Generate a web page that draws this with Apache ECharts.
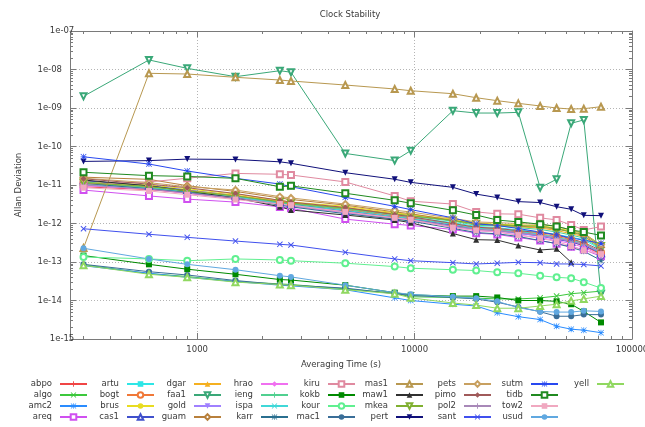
<!DOCTYPE html>
<html>
<head>
<meta charset="utf-8">
<title>Clock Stability</title>
<script src="https://cdn.jsdelivr.net/npm/echarts@6/dist/echarts.min.js"></script>
<style>
  html, body { margin: 0; padding: 0; background: #ffffff; }
  #chart { width: 645px; height: 427px; }
</style>
</head>
<body>
<div id="chart"></div>
<script>
// Averaging times (s) shared by all stations
const taus = [300, 600, 900, 1500, 2400, 2700, 4800, 8100, 9600, 15000, 19200, 24000, 30000, 37800, 45000, 52500, 60000, 72000];

// Allan deviation per station, one value per averaging time (null = no estimate)
const abpo = [9.0e-12, 7.6e-12, 6.2e-12, 4.4e-12, 3.2e-12, 3.0e-12, 2.2e-12, 1.5e-12, 1.35e-12, 9.0e-13, 7.6e-13, 7.0e-13, 6.0e-13, 5.0e-13, 4.0e-13, 3.4e-13, 2.6e-13, 1.6e-13];
const algo = [8.5e-14, 5.0e-14, 4.2e-14, 3.1e-14, 2.7e-14, 2.6e-14, 2.0e-14, 1.55e-14, 1.25e-14, 1.2e-14, 1.15e-14, 1.1e-14, 1.1e-14, 1.17e-14, 1.3e-14, 1.5e-14, 1.6e-14, 1.75e-14];
const amc2 = [8.0e-14, 5.1e-14, 4.0e-14, 3.1e-14, 2.5e-14, 2.4e-14, 1.9e-14, 1.17e-14, 1.0e-14, 8.0e-15, 7.2e-15, 4.8e-15, 3.8e-15, 3.2e-15, 2.15e-15, 1.8e-15, 1.7e-15, 1.46e-15];
const areq = [7.4e-12, 5.2e-12, 4.3e-12, 3.6e-12, 2.7e-12, 2.5e-12, 1.3e-12, 9.6e-13, 8.9e-13, 7.0e-13, 5.6e-13, 5.2e-13, 4.3e-13, 3.6e-13, 3.0e-13, 2.5e-13, 2.1e-13, 1.4e-13];
const artu = [1.1e-11, 8.8e-12, 7.0e-12, 5.2e-12, 3.6e-12, 3.3e-12, 2.4e-12, 1.6e-12, 1.45e-12, 1.05e-12, 8.4e-13, 7.8e-13, 6.8e-13, 6.0e-13, 5.2e-13, 4.4e-13, 3.8e-13, 2.1e-13];
const bogt = [1.15e-11, 8.5e-12, 6.8e-12, 5.0e-12, 3.4e-12, 3.1e-12, 2.3e-12, 1.55e-12, 1.4e-12, 9.5e-13, 7.8e-13, 7.2e-13, 6.2e-13, 5.4e-13, 4.6e-13, 3.8e-13, 3.0e-13, 1.8e-13];
const brus = [1.25e-11, 1.0e-11, 8.0e-12, 5.8e-12, 4.0e-12, 3.6e-12, 2.8e-12, 1.9e-12, 1.7e-12, 1.3e-12, 1.05e-12, 9.5e-13, 9.2e-13, 8.8e-13, 7.6e-13, 6.4e-13, 5.6e-13, 2.7e-13];
const cas1 = [1.3e-11, 9.5e-12, 7.4e-12, 5.3e-12, 3.5e-12, 3.2e-12, 2.1e-12, 1.45e-12, 1.3e-12, 8.8e-13, 7.0e-13, 6.5e-13, 5.6e-13, 4.7e-13, 3.9e-13, 3.3e-13, 2.7e-13, 1.7e-13];
const dgar = [1.2e-11, 9.0e-12, 7.2e-12, 5.4e-12, 3.8e-12, 3.4e-12, 2.6e-12, 1.8e-12, 1.6e-12, 1.2e-12, 9.5e-13, 8.8e-13, 8.2e-13, 7.6e-13, 6.6e-13, 5.4e-13, 4.6e-13, 2.3e-13];
const faa1 = [2.01e-9, 1.77e-8, 1.07e-8, 6.5e-9, 9.3e-9, 8.5e-9, 6.6e-11, 4.3e-11, 7.8e-11, 8.5e-10, 7.4e-10, 7.4e-10, 7.7e-10, 8.5e-12, 1.41e-11, 4.0e-10, 4.9e-10, 1.5e-14];
const gold = [1.0e-11, 8.0e-12, 6.5e-12, 4.8e-12, 3.3e-12, 3.0e-12, 2.0e-12, 1.4e-12, 1.25e-12, 8.5e-13, 6.8e-13, 6.3e-13, 5.5e-13, 4.8e-13, 4.0e-13, 3.5e-13, 2.8e-13, 1.9e-13];
const guam = [1.6e-11, 1.4e-11, 9.6e-12, 6.8e-12, 4.6e-12, 4.2e-12, 3.0e-12, 2.0e-12, 1.8e-12, 1.2e-12, 1.0e-12, 9.2e-13, 8.5e-13, 8.0e-13, 7.2e-13, 6.0e-13, 4.8e-13, 2.4e-13];
const hrao = [9.5e-12, 7.8e-12, 6.0e-12, 4.5e-12, 3.1e-12, 2.8e-12, 1.9e-12, 1.35e-12, 1.2e-12, 8.0e-13, 6.5e-13, 6.0e-13, 5.0e-13, 4.3e-13, 3.6e-13, 3.0e-13, 2.4e-13, 1.5e-13];
const ieng = [1.2e-11, 8.6e-12, 6.9e-12, 5.1e-12, 3.5e-12, 3.2e-12, 2.4e-12, 1.7e-12, 1.55e-12, 1.15e-12, 9.0e-13, 8.6e-13, 7.8e-13, 7.0e-13, 6.0e-13, 5.0e-13, 4.2e-13, 2.2e-13];
const ispa = [1.05e-11, 8.2e-12, 6.6e-12, 4.9e-12, 3.3e-12, 3.0e-12, 2.2e-12, 1.5e-12, 1.35e-12, 9.5e-13, 7.5e-13, 7.0e-13, 6.3e-13, 5.2e-13, 4.4e-13, 3.6e-13, 3.1e-13, 1.7e-13];
const karr = [1.1e-11, 8.0e-12, 6.4e-12, 4.6e-12, 3.0e-12, 2.7e-12, 1.8e-12, 1.3e-12, 1.15e-12, 7.5e-13, 5.8e-13, 5.4e-13, 4.6e-13, 3.6e-13, 3.0e-13, 2.4e-13, 1.9e-13, 1.1e-13];
const kiru = [1.05e-11, 1.2e-11, 1.5e-11, 2.0e-11, 1.9e-11, 1.82e-11, 1.2e-11, 5.2e-12, 3.8e-12, 3.2e-12, 2.0e-12, 1.78e-12, 1.75e-12, 1.4e-12, 1.24e-12, 9.2e-13, 6.8e-13, 8.3e-13];
const kokb = [1.47e-13, 8.7e-14, 6.5e-14, 4.8e-14, 3.5e-14, 3.4e-14, 2.5e-14, 1.6e-14, 1.4e-14, 1.3e-14, 1.3e-14, 1.2e-14, 1.0e-14, 1.0e-14, 9.5e-15, 8.0e-15, 5.2e-15, 2.7e-15];
const kour = [1.35e-13, 1.2e-13, 1.08e-13, 1.2e-13, 1.13e-13, 1.08e-13, 9.3e-14, 7.6e-14, 6.9e-14, 6.3e-14, 6.0e-14, 5.4e-14, 5.1e-14, 4.4e-14, 4.0e-14, 3.8e-14, 3.0e-14, 2.1e-14];
const mac1 = [8.7e-14, 5.6e-14, 4.6e-14, 3.3e-14, 2.6e-14, 2.5e-14, 2.1e-14, 1.5e-14, 1.35e-14, 1.2e-14, 1.1e-14, 9.0e-15, 6.8e-15, 5.1e-15, 3.9e-15, 3.9e-15, 4.3e-15, 4.3e-15];
const mas1 = [2.31e-13, 7.96e-9, 7.64e-9, 6.27e-9, 5.33e-9, 5.03e-9, 3.95e-9, 3.12e-9, 2.81e-9, 2.35e-9, 1.85e-9, 1.55e-9, 1.32e-9, 1.13e-9, 1.0e-9, 9.4e-10, 9.6e-10, 1.08e-9];
const maw1 = [1.35e-11, 9.5e-12, 7.0e-12, 4.6e-12, 2.73e-12, 2.24e-12, 1.66e-12, 1.23e-12, 1.05e-12, 5.5e-13, 3.8e-13, 3.7e-13, 2.7e-13, 2.05e-13, 2.2e-13, 9.8e-14, null, null];
const mkea = [1.15e-11, 9.2e-12, 7.0e-12, 5.2e-12, 3.7e-12, 3.4e-12, 2.5e-12, 1.75e-12, 1.6e-12, 1.2e-12, 9.8e-13, 9.3e-13, 8.8e-13, 8.5e-13, 7.4e-13, 6.0e-13, 5.2e-13, 2.6e-13];
const pert = [4.1e-11, 4.3e-11, 4.7e-11, 4.6e-11, 4.0e-11, 3.66e-11, 2.09e-11, 1.41e-11, 1.17e-11, 8.7e-12, 5.8e-12, 4.7e-12, 3.7e-12, 3.5e-12, 2.73e-12, 2.34e-12, 1.63e-12, 1.6e-12];
const pets = [1.5e-11, 1.15e-11, 9.0e-12, 7.4e-12, 5.0e-12, 4.6e-12, 3.2e-12, 2.2e-12, 2.0e-12, 1.35e-12, 1.1e-12, 1.05e-12, 1.0e-12, 9.5e-13, 8.5e-13, 6.8e-13, 5.5e-13, 2.8e-13];
const pimo = [1.45e-11, 1.05e-11, 8.5e-12, 6.0e-12, 4.0e-12, 3.6e-12, 2.6e-12, 1.7e-12, 1.5e-12, 1.0e-12, 8.0e-13, 7.5e-13, 6.5e-13, 5.8e-13, 5.0e-13, 4.0e-13, 3.2e-13, 2.0e-13];
const pol2 = [1.0e-11, 7.8e-12, 6.2e-12, 4.6e-12, 3.2e-12, 2.9e-12, 2.0e-12, 1.4e-12, 1.25e-12, 8.5e-13, 7.0e-13, 6.5e-13, 5.8e-13, 5.0e-13, 4.2e-13, 3.5e-13, 2.9e-13, 1.8e-13];
const sant = [7.3e-13, 5.25e-13, 4.37e-13, 3.5e-13, 2.88e-13, 2.76e-13, 1.78e-13, 1.2e-13, 1.08e-13, 9.6e-14, 8.9e-14, 9.3e-14, 9.8e-14, 9.6e-14, 8.9e-14, 8.9e-14, 8.6e-14, 7.9e-14];
const sutm = [5.4e-11, 3.5e-11, 2.31e-11, 1.49e-11, 1.06e-11, 9.0e-12, 4.8e-12, 2.8e-12, 2.3e-12, 1.4e-12, 9.8e-13, 8.9e-13, 7.4e-13, 6.0e-13, 5.1e-13, 4.2e-13, 3.7e-13, 3.05e-13];
const tidb = [2.14e-11, 1.75e-11, 1.67e-11, 1.49e-11, 9.0e-12, 9.5e-12, 6.1e-12, 4.0e-12, 3.35e-12, 2.2e-12, 1.66e-12, 1.23e-12, 1.1e-12, 9.6e-13, 8.4e-13, 6.8e-13, 6.0e-13, 4.9e-13];
const tow2 = [8.5e-12, 7.0e-12, 5.6e-12, 4.2e-12, 3.2e-12, 3.0e-12, 2.0e-12, 1.4e-12, 1.25e-12, 7.8e-13, 6.6e-13, 6.1e-13, 5.0e-13, 4.1e-13, 3.4e-13, 2.6e-13, 2.0e-13, 1.6e-13];
const usud = [2.27e-13, 1.2e-13, 8.7e-14, 6.3e-14, 4.4e-14, 4.1e-14, 2.5e-14, 1.6e-14, 1.45e-14, 1.25e-14, 1.15e-14, 9.5e-15, 6.5e-15, 5.2e-15, 5.0e-15, 5.0e-15, 5.4e-15, 5.2e-15];
const yell = [8.2e-14, 4.8e-14, 4.0e-14, 3.0e-14, 2.6e-14, 2.5e-14, 1.9e-14, 1.5e-14, 1.17e-14, 8.6e-15, 7.6e-15, 6.3e-15, 6.3e-15, 7.2e-15, 8.0e-15, 9.8e-15, 1.1e-14, 1.3e-14];

const stations = { abpo, algo, amc2, areq, artu, bogt, brus, cas1, dgar, faa1, gold, guam, hrao, ieng, ispa, karr,
                   kiru, kokb, kour, mac1, mas1, maw1, mkea, pert, pets, pimo, pol2, sant, sutm, tidb, tow2, usud, yell };

// Axis ticks
const xMajorTicks = [1000, 10000, 100000];
const xMinorTicks = [300, 400, 500, 600, 700, 800, 900,
                     2000, 3000, 4000, 5000, 6000, 7000, 8000, 9000,
                     20000, 30000, 40000, 50000, 60000, 70000, 80000, 90000];
const yMajorTicks = [1e-15, 1e-14, 1e-13, 1e-12, 1e-11, 1e-10, 1e-9, 1e-8, 1e-7];
const yMinorTicks = [];
for (let e = -15; e < -7; e++) {
  for (let m = 2; m <= 9; m++) yMinorTicks.push(Number(m + 'e' + e));
}

// Marker shapes
const PLUS = 'path://M0,4.2H10V5.8H0Z M4.2,0H5.8V10H4.2Z';
const CROSS = 'path://M1.1,0L10,8.9L8.9,10L0,1.1Z M8.9,0L10,1.1L1.1,10L0,8.9Z';
const STAR = 'path://M0,4.4H10V5.6H0Z M4.4,0H5.6V10H4.4Z M0.8,0L10,9.2L9.2,10L0,0.8Z M9.2,0L10,0.8L0.8,10L0,9.2Z';

const styleOf = {
  abpo: ['#f04545', PLUS, 0],        algo: ['#3cc83c', CROSS, 0],      amc2: ['#2a8cff', STAR, 0],
  areq: ['#d050f0', 'emptyRect', 0], artu: ['#2ee6e6', 'rect', 0],     bogt: ['#f07838', 'emptyCircle', 0],
  brus: ['#e8dc20', 'circle', 0],    cas1: ['#4050cc', 'emptyTriangle', 0], dgar: ['#f5b020', 'triangle', 0],
  faa1: ['#3aa878', 'emptyTriangle', 180], gold: ['#a080ff', 'triangle', 180], guam: ['#b8803c', 'emptyDiamond', 0],
  hrao: ['#f070f0', 'diamond', 0],   ieng: ['#50d090', PLUS, 0],       ispa: ['#40d8d8', CROSS, 0],
  karr: ['#2a6f8f', STAR, 0],        kiru: ['#e08aa0', 'emptyRect', 0], kokb: ['#008a00', 'rect', 0],
  kour: ['#60f090', 'emptyCircle', 0], mac1: ['#3a6e98', 'circle', 0], mas1: ['#b89850', 'emptyTriangle', 0],
  maw1: ['#303030', 'triangle', 0],  mkea: ['#80b030', 'emptyTriangle', 180], pert: ['#10107a', 'triangle', 180],
  pets: ['#c8a060', 'emptyDiamond', 0], pimo: ['#a05a5a', 'diamond', 0], pol2: ['#a888b8', PLUS, 0],
  sant: ['#4050ee', CROSS, 0],       sutm: ['#2848f0', STAR, 0],       tidb: ['#208a20', 'emptyRect', 0],
  tow2: ['#f0a8c0', 'rect', 0],      usud: ['#60a8e0', 'circle', 0],   yell: ['#90d860', 'emptyTriangle', 0]
};

const names = Object.keys(stations);
const FONT = 'DejaVu Sans';
const FS = 8.5;
const AXIS_GREY = '#7a7a7a';
const TEXT = '#3a3a3a';

const series = names.map(function (name) {
  const st = styleOf[name];
  return {
    name: name,
    type: 'line',
    xAxisIndex: 0,
    yAxisIndex: 0,
    data: taus.map(function (t, i) { return [t, stations[name][i]]; }),
    symbol: st[1],
    symbolRotate: st[2],
    symbolSize: 6,
    showSymbol: true,
    connectNulls: false,
    color: st[0],
    lineStyle: { width: 1, color: st[0] },
    itemStyle: { color: st[0] },
    emphasis: { disabled: true }
  };
});

// Legend: 4 rows, filled column by column, label to the left of the sample
const legendRight = [557, 490, 423, 356, 289, 221, 153, 86, 20];
const legends = [];
for (let c = 0; c * 4 < names.length; c++) {
  legends.push({
    orient: 'vertical',
    right: legendRight[c],
    top: 379,
    padding: 0,
    align: 'right',
    itemWidth: 27,
    itemHeight: 7,
    itemGap: 1,
    selectedMode: false,
    symbolRotate: 'inherit',
    textStyle: { fontFamily: FONT, fontSize: FS, color: TEXT, lineHeight: 10, padding: [0, 3, 0, 0] },
    data: names.slice(c * 4, c * 4 + 4)
  });
}

function expLabel(v) {
  const e = Math.round(Math.log10(v));
  return '1e' + (e < 0 ? '-' : '+') + String(Math.abs(e)).padStart(2, '0');
}

function logX(position, ticks, len, withLabels) {
  return {
    type: 'log', logBase: 10, gridIndex: 0, position: position, min: 260, max: 100000,
    axisLine: { show: withLabels, lineStyle: { color: AXIS_GREY, width: 1 } },
    axisTick: { show: true, inside: true, length: len, customValues: ticks, lineStyle: { color: AXIS_GREY, width: 1 } },
    axisLabel: withLabels ? { show: true, customValues: xMajorTicks, formatter: function (v) { return String(Math.round(v)); },
                              fontFamily: FONT, fontSize: FS, color: TEXT, margin: 6,
                              alignMinLabel: 'center', alignMaxLabel: 'center', hideOverlap: false } : { show: false },
    splitLine: { show: false },
    minorTick: { show: false }
  };
}
function logY(position, ticks, len, withLabels) {
  return {
    type: 'log', logBase: 10, gridIndex: 0, position: position, min: 1e-15, max: 1e-7,
    axisLine: { show: withLabels, lineStyle: { color: AXIS_GREY, width: 1 } },
    axisTick: { show: true, inside: true, length: len, customValues: ticks, lineStyle: { color: AXIS_GREY, width: 1 } },
    axisLabel: withLabels ? { show: true, customValues: yMajorTicks, formatter: expLabel,
                              fontFamily: FONT, fontSize: FS, color: TEXT, margin: 8,
                              alignMinLabel: 'center', alignMaxLabel: 'center' } : { show: false },
    splitLine: { show: false },
    minorTick: { show: false }
  };
}

const xMain = logX('bottom', xMajorTicks, 6, true);
xMain.splitLine = { show: true, lineStyle: { color: '#b4b4b4', width: 1, type: [1, 2] } };
xMain.name = 'Averaging Time (s)';
xMain.nameLocation = 'middle';
xMain.nameGap = 21;
xMain.nameTextStyle = { fontFamily: FONT, fontSize: FS, color: TEXT, padding: [0, 20, 0, 0] };

const yMain = logY('left', yMajorTicks, 6, true);
yMain.splitLine = { show: true, lineStyle: { color: '#b4b4b4', width: 1, type: [1, 2] } };
yMain.name = 'Allan Deviation';
yMain.nameLocation = 'middle';
yMain.nameGap = 47;
yMain.nameTextStyle = { fontFamily: FONT, fontSize: FS, color: TEXT };

const option = {
  animation: false,
  backgroundColor: '#ffffff',
  title: {
    text: 'Clock Stability',
    left: 350, top: 10, textAlign: 'center', padding: 0,
    textStyle: { fontFamily: FONT, fontSize: FS, fontWeight: 'normal', color: TEXT }
  },
  grid: { left: 70, right: 13, top: 31, bottom: 88, containLabel: false, outerBoundsMode: 'none' },
  legend: legends,
  xAxis: [xMain, logX('bottom', xMinorTicks, 3, false), logX('top', xMajorTicks, 6, false), logX('top', xMinorTicks, 3, false)],
  yAxis: [yMain, logY('left', yMinorTicks, 3, false), logY('right', yMajorTicks, 6, false), logY('right', yMinorTicks, 3, false)],
  series: series
};
// frame lines on top and right
option.xAxis[2].axisLine.show = true;
option.yAxis[2].axisLine.show = true;

const chart = echarts.init(document.getElementById('chart'), null, { renderer: 'canvas' });
chart.setOption(option);
</script>
</body>
</html>
